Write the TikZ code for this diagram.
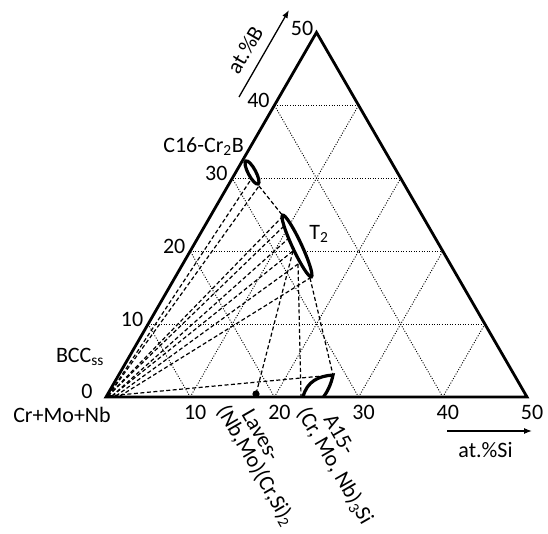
\documentclass[tikz,border=0pt]{standalone}
\usepackage{fontspec}
\setmainfont{Carlito}
\usetikzlibrary{arrows.meta}
\begin{document}
\begin{tikzpicture}[x=1pt,y=-1pt,
  lab/.style={font=\fontsize{22}{26}\selectfont, inner sep=0pt},
  edge/.style={line width=2.8pt, line join=miter},
  gridline/.style={line width=0.9pt, dash pattern=on 1pt off 1.6pt},
  tie/.style={line width=1.2pt, dash pattern=on 4pt off 2.5pt},
  phase/.style={line width=3.2pt},
  axarrow/.style={line width=1.3pt, -{Latex[length=8pt,width=6pt]}}]
\fill[white] (0,0) rectangle (548,534);
\useasboundingbox (0,0) rectangle (548,534);
% vertices
\coordinate (L) at (106,397);
\coordinate (R) at (527,397);
\coordinate (T) at (316.5,32.4);
% grid coordinates
\foreach \k in {10,20,30,40} {
  \coordinate (gl\k) at ({106+4.21*\k},{397-7.292*\k});
  \coordinate (gr\k) at ({527-4.21*\k},{397-7.292*\k});
  \coordinate (gb\k) at ({106+8.42*\k},397);
}
\foreach \k/\m in {10/40,20/30,30/20,40/10} {
  \draw[gridline] (gl\k) -- (gr\k);
  \draw[gridline] (gb\k) -- (gr\m);
  \draw[gridline] (gb\k) -- (gl\k);
}
% tie-line end points
\coordinate (O1) at (108,396);
\coordinate (O2) at (112,396);
\coordinate (O3) at (116,396);
\coordinate (O4) at (120,396);
\coordinate (C16a) at (250,181);
\coordinate (C16b) at (259,186);
\coordinate (T2a) at (283,216);
\coordinate (T2b) at (284,226);
\coordinate (T2c) at (289,238);
\coordinate (T2d) at (293,251);
\coordinate (T2e) at (298,264);
\coordinate (T2f) at (310,278);
\coordinate (Lav) at (256,394);
\coordinate (A15L) at (301,396);
\coordinate (A15T) at (333,375);
% tie lines
\draw[tie] (O1) -- (C16a);
\draw[tie] (O1) -- (C16b);
\draw[tie] (C16b) -- (T2a);
\draw[tie] (O1) -- (T2a);
\draw[tie] (O1) -- (T2b);
\draw[tie] (O2) -- (T2c);
\draw[tie] (O2) -- (T2d);
\draw[tie] (O3) -- (T2e);
\draw[tie] (O4) -- (T2f);
\draw[tie] (O1) -- (A15T);
\draw[tie] (T2d) -- (Lav);
\draw[tie] (T2e) -- (A15L);
\draw[tie] (T2f) -- (A15T);
% triangle
\draw[edge] (L) -- (R) -- (T) -- cycle;
% phase fields
\begin{scope}[shift={(252,172.5)}, rotate=-62]
  \draw[phase, fill=white] (0,0) ellipse [x radius=13, y radius=3.8];
\end{scope}
\begin{scope}[shift={(297,246)}, rotate=-65]
  \draw[phase, fill=white] (0,0) ellipse [x radius=34, y radius=4.6];
\end{scope}
\draw[phase] (303,397) .. controls (307,381) and (319,376) .. (A15T) .. controls (331,385) and (327,392) .. (323.5,397);
\fill (Lav) circle (3.6);
% tick labels
\foreach \k in {10,20,30,40} {
  \node[lab] (bl\k) at ({106+8.42*\k+5},412) {\k};
  \node[lab] (ll\k) at ({106+4.21*\k-16},{397-7.292*\k-5}) {\k};
}
\node[lab] (bl50) at (532,412) {50};
\node[lab] (ll50) at (302,28) {50};
\node[lab] (l0) at (87,391) {0};
% labels
\node[lab] (c16lab) at (203.5,147) {C16-Cr\textsubscript{2}B};
\node[lab] (t2lab) at (319,234) {T\textsubscript{2}};
\node[lab] (bcclab) at (80,357) {BCC\textsubscript{ss}};
\node[lab] (crlab) at (62,415) {Cr+Mo+Nb};
\node[lab, rotate=-60, anchor=west] (lav1) at (247,411) {Laves-};
\node[lab, rotate=-60, anchor=west] (lav2) at (222,407) {(Nb,Mo)(Cr,Si)\textsubscript{2}};
\node[lab, rotate=-60, anchor=west] (a151) at (329,416) {A15-};
\node[lab, rotate=-60, anchor=west] (a152) at (302,409) {(Cr, Mo, Nb)\textsubscript{3}Si};
% axes
\coordinate (siS) at (447,431);
\coordinate (siE) at (532,431);
\draw[axarrow] (siS) -- (siE);
\node[lab] (silab) at (485.5,450) {at.\%Si};
\coordinate (bS) at (239,97);
\coordinate (bE) at (289,10);
\draw[axarrow] (bS) -- (bE);
\node[lab, rotate=60] (blab) at (245,50) {at.\%B};
\end{tikzpicture}
\end{document}
